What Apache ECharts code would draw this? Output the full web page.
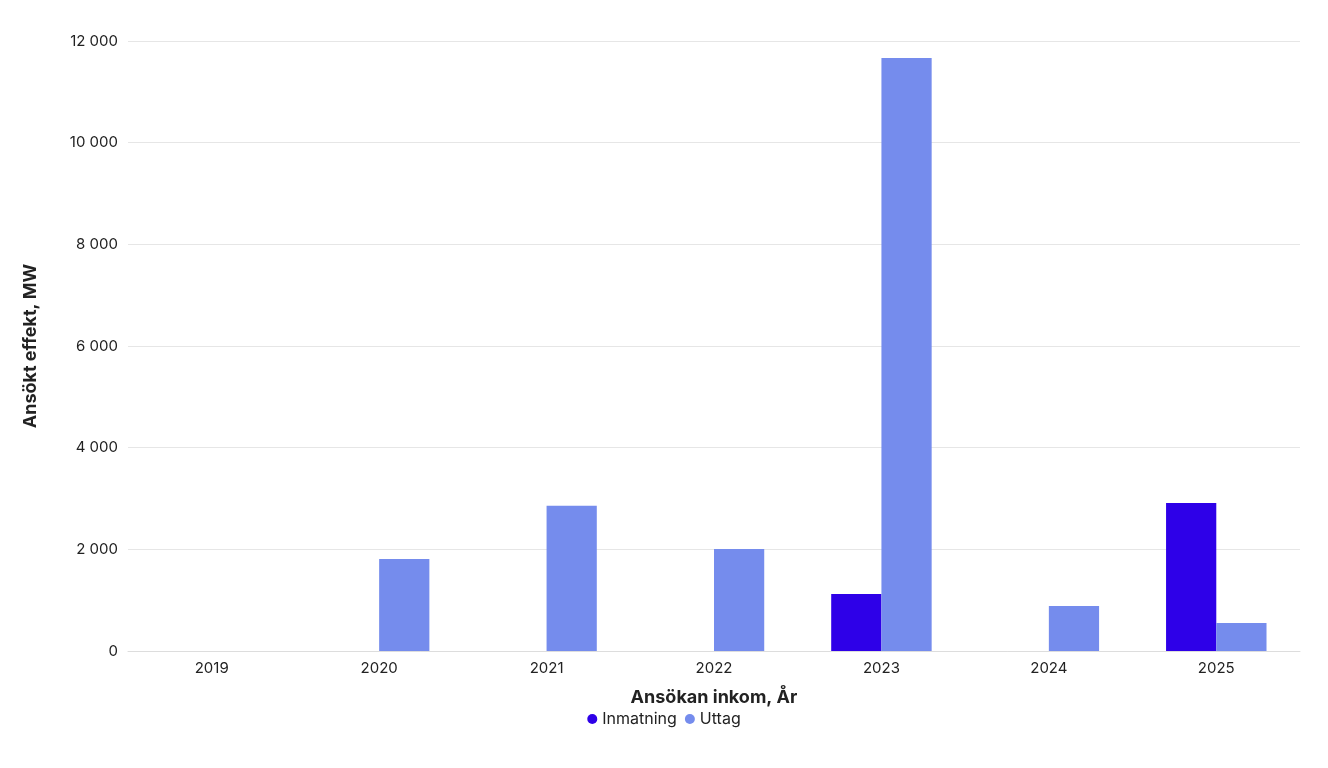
<!DOCTYPE html>
<html>
<head>
<meta charset="utf-8">
<script src="https://cdn.jsdelivr.net/npm/echarts@6/dist/echarts.min.js"></script>
<style>
  html, body { margin: 0; padding: 0; background: #fff; }
  #chart { width: 1328px; height: 768px; }
</style>
</head>
<body>
<div id="chart"></div>
<script>
var years = ["2019", "2020", "2021", "2022", "2023", "2024", "2025"];
var inmatning = [null, null, null, null, 1120, null, 2910];
var uttag = [null, 1810, 2855, 2005, 11665, 885, 550];

var chart = echarts.init(document.getElementById('chart'));

// tusental med mellanslag
function fmt(v) {
    return String(v).replace(/\B(?=(\d{3})+(?!\d))/g, ' ');
}

chart.setOption({
    animation: false,
    textStyle: { fontFamily: 'Inter' },
    grid: { left: 128, right: 28, top: 41, bottom: 117 },
    legend: {
        bottom: 36,
        icon: 'circle',
        itemWidth: 10,
        itemHeight: 10,
        itemGap: 8,
        textStyle: { fontSize: 16, color: '#222', fontFamily: 'Inter' },
        data: ['Inmatning', 'Uttag']
    },
    xAxis: {
        type: 'category',
        data: years,
        name: 'Ansökan inkom, År',
        nameLocation: 'middle',
        nameGap: 38,
        nameTextStyle: { fontSize: 18, fontWeight: 'bold', color: '#222' },
        axisTick: { show: false },
        axisLine: { lineStyle: { color: '#ddd' } },
        axisLabel: { fontSize: 15, color: '#222', margin: 10 }
    },
    yAxis: {
        type: 'value',
        min: 0,
        max: 12000,
        interval: 2000,
        name: 'Ansökt effekt, MW',
        nameLocation: 'middle',
        nameGap: 88,
        nameTextStyle: { fontSize: 18, fontWeight: 'bold', color: '#222' },
        axisLabel: { fontSize: 15, color: '#222', margin: 10, formatter: fmt },
        splitLine: { lineStyle: { color: '#e6e6e6' } }
    },
    series: [
        {
            name: 'Inmatning',
            type: 'bar',
            data: inmatning,
            barGap: '0%',
            barCategoryGap: '40%',
            itemStyle: { color: '#2e00e8' }
        },
        {
            name: 'Uttag',
            type: 'bar',
            data: uttag,
            itemStyle: { color: '#758ced' }
        }
    ]
});
</script>
</body>
</html>
